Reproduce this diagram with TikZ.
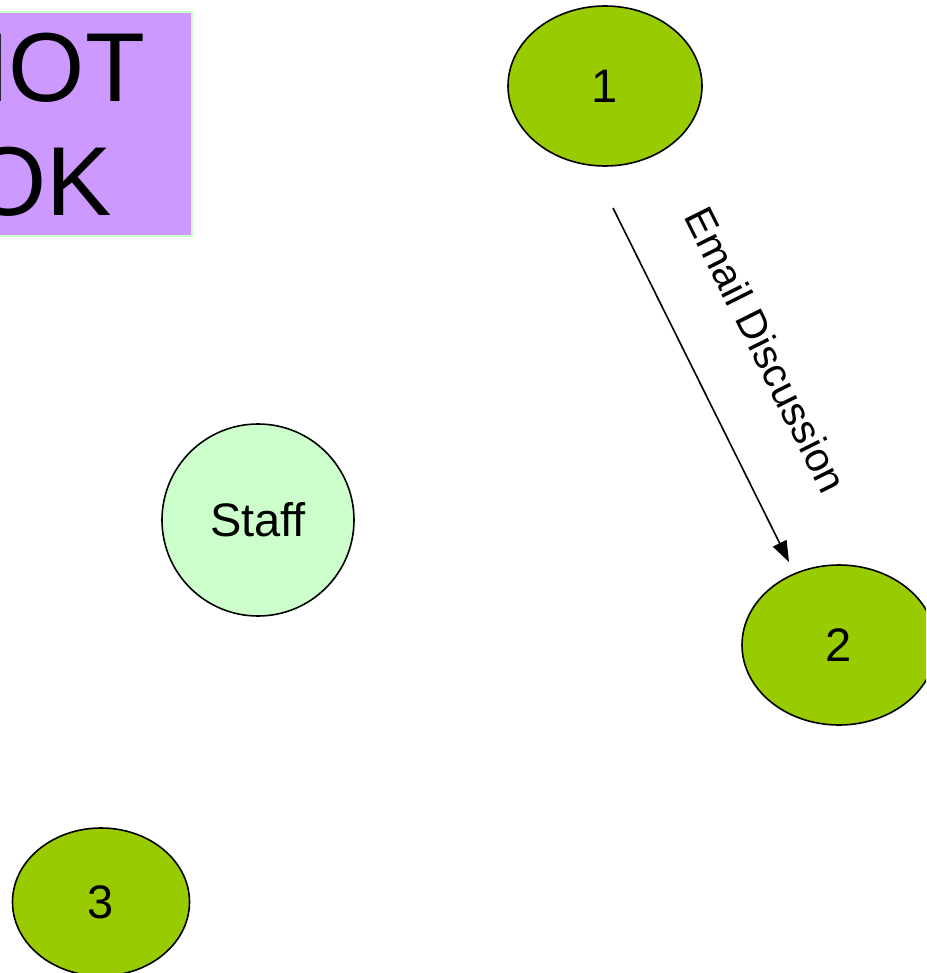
\documentclass[tikz,border=0pt]{standalone}
\usepackage{fontspec}
\setmainfont{Liberation Sans}
\usetikzlibrary{shapes.geometric,arrows.meta}
\definecolor{leafgreen}{HTML}{99CC00}
\definecolor{palegreen}{HTML}{CCFFCC}
\definecolor{lilac}{HTML}{CC99FF}
\tikzset{
  greenoval/.style={ellipse, draw=black, line width=1.6pt, fill=leafgreen, inner sep=0pt,
    font=\fontsize{47}{54}\selectfont},
  staffcircle/.style={circle, draw=black, line width=1.6pt, fill=palegreen, inner sep=0pt,
    minimum size=192pt, font=\fontsize{47}{54}\selectfont},
  notebox/.style={rectangle, draw=palegreen, line width=2pt, fill=lilac, inner sep=0pt,
    minimum width=308pt, minimum height=224pt},
  boxtext/.style={inner sep=0pt, align=center, font=\fontsize{98}{114}\selectfont},
  linkarrow/.style={line width=1.6pt, -{Triangle[length=21pt,width=15pt]}},
  linklabel/.style={font=\fontsize{41}{48}\selectfont, inner sep=0pt}
}
\begin{document}
\begin{tikzpicture}[x=1pt,y=-1pt]
\useasboundingbox (0,0) rectangle (926,973);
\clip (0,0) rectangle (926,973);
\node[notebox] (box) at (38,124.5) {};
\node[boxtext] (boxlabel) at (41.5,125) {NOT\\OK};
\node[greenoval, minimum width=194pt, minimum height=160pt] (n1) at (605,86) {1};
\node[greenoval, minimum width=194pt, minimum height=160pt] (n2) at (839,645) {2};
\node[greenoval, minimum width=177pt, minimum height=148pt] (n3) at (101,902) {3};
\node[staffcircle] (staff) at (258,520) {Staff};
\coordinate (s) at (613,208);
\coordinate (e) at (789,562);
\draw[linkarrow] (s) -- (e);
\node[linklabel, rotate=-63.43] (lbl) at (766,350) {Email Discussion};
\end{tikzpicture}
\end{document}
